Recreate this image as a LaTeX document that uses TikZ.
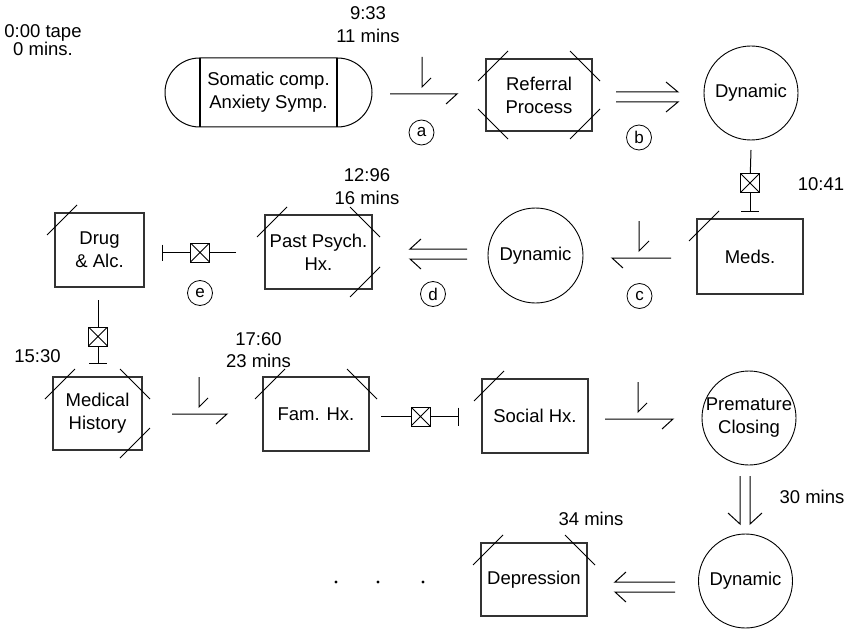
\documentclass[tikz,border=0pt]{standalone}
\usepackage{fontspec}
\setmainfont{Liberation Sans}
\usetikzlibrary{calc,shapes.misc}
\newcommand\cslash[3]{\draw[slash] ($(#1)+({-8*(#2)},{22*(#3)})$) -- ++({30*(#2)},{-30*(#3)});}
% signal connector pointing right: name, x start, x end, y, x of vertical
\newcommand\sigR[5]{%
  \coordinate (#1s) at (#2,#4); \coordinate (#1e) at (#3,#4);
  \coordinate (#1t) at (#5,#4-37); \coordinate (#1b) at (#5,#4-7);
  \draw[ln] (#1s) -- (#1e) -- ++(-11,10);
  \draw[ln] (#1t) -- (#1b) -- ++(9,-9);}
\newcommand\sigL[5]{%
  \coordinate (#1s) at (#2,#4); \coordinate (#1e) at (#3,#4);
  \coordinate (#1t) at (#5,#4-37); \coordinate (#1b) at (#5,#4-7);
  \draw[ln] (#1s) -- (#1e) -- ++(11,10);
  \draw[ln] (#1t) -- (#1b) -- ++(10,-10);}
% double arrows
\newcommand\dblR[4]{%
  \coordinate (#1s) at (#2,#4); \coordinate (#1e) at (#3,#4);
  \draw[ln] ($(#1s)+(0,-5)$) -- ($(#1e)+(0,-5)$) -- ++(-12,-10);
  \draw[ln] ($(#1s)+(0,5)$) -- ($(#1e)+(0,5)$) -- ++(-12,10);}
\newcommand\dblL[4]{%
  \coordinate (#1s) at (#2,#4); \coordinate (#1e) at (#3,#4);
  \draw[ln] ($(#1s)+(0,-5)$) -- ($(#1e)+(0,-5)$) -- ++(11,-10);
  \draw[ln] ($(#1s)+(0,5)$) -- ($(#1e)+(0,5)$) -- ++(11,10);}
\newcommand\dblD[4]{%
  \coordinate (#1s) at (#2,#3); \coordinate (#1e) at (#2,#4);
  \draw[ln] ($(#1s)+(-5,0)$) -- ($(#1e)+(-5,0)$) -- ++(-12,-11);
  \draw[ln] ($(#1s)+(5,0)$) -- ($(#1e)+(5,0)$) -- ++(12,-11);}
\begin{document}
\begin{tikzpicture}[x=1pt,y=-1pt,
  every node/.style={font=\fontsize{18.5}{23}\selectfont, inner sep=0pt, outer sep=0pt},
  box/.style={draw=black!80, line width=1.2pt, minimum width=106pt, minimum height=74pt, align=center},
  dyn/.style={draw, circle, line width=0.9pt, minimum size=94pt, align=center},
  lbl/.style={draw, circle, line width=0.8pt, minimum size=25pt, font=\fontsize{17}{20}\selectfont},
  tm/.style={align=center},
  ln/.style={line width=1pt},
  slash/.style={line width=1pt},
  xbox/.style={draw, line width=1pt, minimum size=19pt,
    path picture={\draw[line width=0.8pt] (path picture bounding box.north west) -- (path picture bounding box.south east)
      (path picture bounding box.north east) -- (path picture bounding box.south west);}},
]
\useasboundingbox (0,0) rectangle (848,631);

% time labels
\node[tm] (t0) at (43,40.5) {0:00 tape\\[-5pt]0 mins.};
\node[tm] (t1) at (368,24.5) {9:33\\11 mins};
\node[tm] (t2) at (367,187) {12:96\\16 mins};
\node (t3) at (821,184) {10:41};
\node (t4) at (37.5,356) {15:30};
\node[tm] (t5) at (258.5,350.5) {17:60\\[-1pt]23 mins};
\node (t6) at (812,497) {30 mins};
\node (t7) at (591,519) {34 mins};

% row 1
\node[rounded rectangle, draw, line width=1pt, minimum width=207pt, minimum height=69pt, align=center] (som) at (268.5,92.5) {Somatic comp.\\Anxiety Symp.};
\draw[line width=1.8pt] ($(som.center)+(-68.5,-34.5)$) -- ($(som.center)+(-68.5,34.5)$);
\draw[line width=1.8pt] ($(som.center)+(68.5,-34.5)$) -- ($(som.center)+(68.5,34.5)$);
\node[box, minimum height=72pt] (ref) at (539,95) {Referral\\Process};
\node[dyn] (dyn1) at (751,93) {Dynamic};

% row 2
\node[box, minimum width=89pt] (drug) at (99.5,250) {Drug\\\& Alc.};
\node[box, minimum width=107pt] (past) at (318.5,252) {Past Psych.\\Hx.};
\node[dyn, minimum size=95pt] (dyn2) at (535.5,255.5) {Dynamic};
\node[box, minimum height=75pt] (meds) at (750,256.5) {Meds.};

% row 3
\node[box, minimum width=89pt, minimum height=73pt] (medh) at (97.5,413.5) {Medical\\History};
\node[box] (fam) at (316,414) {Fam. Hx.};
\node[box] (soc) at (535,416) {Social Hx.};
\node[dyn] (prem) at (749,418) {};
\node[align=center] at (prem) {Premature\\Closing};

% row 4
\node[dyn] (dyn3) at (745.5,581) {Dynamic};
\node[box, minimum height=73pt] (dep) at (534,579.5) {Depression};
\fill (336,582) circle (1.7pt);
\fill (378,582) circle (1.7pt);
\fill (423,582) circle (1.7pt);

% corner slashes
\cslash{ref.north west}{1}{1}
\cslash{ref.north east}{-1}{1}
\cslash{ref.south west}{1}{-1}
\cslash{ref.south east}{-1}{-1}
\cslash{drug.north west}{1}{1}
\cslash{past.north west}{1}{1}
\cslash{past.north east}{-1}{1}
\cslash{past.south east}{-1}{-1}
\cslash{meds.north west}{1}{1}
\cslash{medh.north west}{1}{1}
\cslash{medh.north east}{-1}{1}
\cslash{medh.south east}{-1}{-1}
\cslash{fam.north west}{1}{1}
\cslash{fam.north east}{-1}{1}
\cslash{soc.north west}{1}{1}
\cslash{dep.north west}{1}{1}
\cslash{dep.north east}{-1}{1}

% signal connectors
\sigR{sa}{390}{457}{94}{422}
\sigL{sc}{671}{612}{258}{639}
\sigR{sf}{172}{227}{414}{199}
\sigR{sp}{605}{673}{419}{638}

% double arrows
\dblR{db}{616}{678}{97}
\dblL{dd}{467}{410}{254}
\dblD{dv}{745}{476}{524}
\dblL{dl}{675}{615}{587}

% blocked connectors
\node[xbox] (xb1) at (750,183) {};
\coordinate (xb1a) at ($(dyn1.south)+(0,10)$);
\coordinate (xb1b) at ($(meds.north)+(0,-8)$);
\draw[ln] (xb1a) -- (xb1);
\draw[ln] (xb1) -- (xb1b);
\draw[ln] ($(xb1b)+(-9,0)$) -- ($(xb1b)+(9,0)$);

\node[xbox] (xb2) at (200,252.5) {};
\coordinate (xb2a) at ($(past.west)+(-29,0.5)$);
\coordinate (xb2b) at ($(drug.east)+(18,2.5)$);
\draw[ln] (xb2a) -- (xb2);
\draw[ln] (xb2) -- (xb2b);
\draw[ln] ($(xb2b)+(0,-8)$) -- ($(xb2b)+(0,8)$);

\node[xbox] (xb3) at (98,336.5) {};
\coordinate (xb3a) at ($(drug.south)+(-1.5,13)$);
\coordinate (xb3b) at ($(medh.north)+(0.5,-14)$);
\draw[ln] (xb3a) -- (xb3);
\draw[ln] (xb3) -- (xb3b);
\draw[ln] ($(xb3b)+(-9,0)$) -- ($(xb3b)+(9,0)$);

\node[xbox] (xb4) at (420.5,416.5) {};
\coordinate (xb4a) at ($(fam.east)+(12,2.5)$);
\coordinate (xb4b) at ($(soc.west)+(-24,0.5)$);
\draw[ln] (xb4a) -- (xb4);
\draw[ln] (xb4) -- (xb4b);
\draw[ln] ($(xb4b)+(0,-9)$) -- ($(xb4b)+(0,9)$);

% circled labels
\node[lbl] (la) at (421.5,132.5) {a};
\node[lbl] (lb) at (639,137.5) {b};
\node[lbl] (lc) at (639.5,296) {c};
\node[lbl] (ld) at (433,294) {d};
\node[lbl] (le) at (200,293) {e};
\end{tikzpicture}
\end{document}
